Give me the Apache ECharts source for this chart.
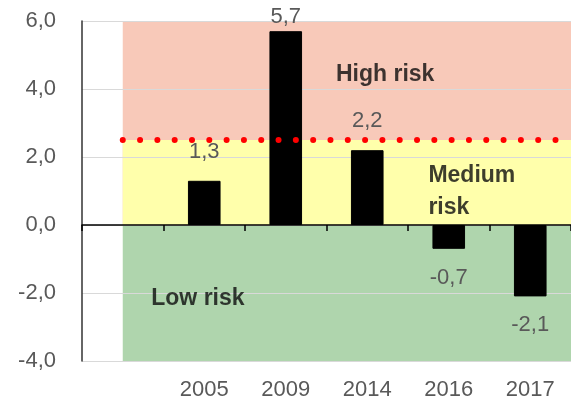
<!DOCTYPE html>
<html>
<head>
<meta charset="utf-8">
<script src="https://cdn.jsdelivr.net/npm/echarts@6/dist/echarts.min.js"></script>
<style>
  html, body { margin: 0; padding: 0; background: #fff; }
  #chart { width: 571px; height: 404px; }
</style>
</head>
<body>
<div id="chart"></div>
<script>
// Years on the category axis; the first slot is left empty
const categories = ['', '2005', '2009', '2014', '2016', '2017'];
// Indicator values per year
const values = [null, 1.3, 5.7, 2.2, -0.7, -2.1];
// Gap between each value label and its bar end, in px
const labelGaps = [0, 18, 3, 18, 18, 18];
// Y axis range and step
const yMin = -4, yMax = 6, yStep = 2;
// Risk zone limits
const highRiskFrom = 2.5;
// Zone band extent along the x direction, in category units
const bandStart = 0.5, bandEnd = 6;

const FONT = '"Liberation Sans", Arial, sans-serif';
const comma = v => String(v).replace('.', ',');

const band = (name, y, color) => ({
  name, type: 'line', xAxisIndex: 2, z: 1,
  data: [[bandStart, y], [bandEnd, y]],
  symbol: 'none', silent: true,
  lineStyle: { width: 0 },
  areaStyle: { color, opacity: 1 }
});

const zoneText = (text, x, y, align) => ({
  name: text, type: 'scatter', xAxisIndex: 2, z: 6,
  data: [[x, y]], symbolSize: 0, silent: true,
  label: {
    show: true, position: 'inside', formatter: text, align,
    fontFamily: FONT, fontSize: 23, fontWeight: 'bold',
    color: '#0d0d0d', lineHeight: 32
  }
});

const chart = echarts.init(document.getElementById('chart'));
chart.setOption({
  animation: false,
  grid: { left: 82, right: -8, top: 21, bottom: 43, containLabel: false },
  xAxis: [
    { // axis drawn on the zero line
      type: 'category', data: categories, position: 'bottom', z: 4,
      axisLine: { onZero: true, lineStyle: { color: '#000', width: 1.5 } },
      axisTick: { show: true, length: 6, lineStyle: { color: '#000', width: 1.5 } },
      axisLabel: { show: false }, splitLine: { show: false }
    },
    { // year labels along the bottom
      type: 'category', data: categories, position: 'bottom',
      axisLine: { show: false, onZero: false }, axisTick: { show: false },
      axisLabel: { color: '#595959', fontFamily: FONT, fontSize: 22, margin: 18 },
      splitLine: { show: false }
    },
    { type: 'value', min: 0, max: 6, show: false }
  ],
  yAxis: {
    type: 'value', min: yMin, max: yMax, interval: yStep, z: 4,
    axisLine: { show: true, lineStyle: { color: '#333', width: 1.5 } },
    axisTick: { show: false },
    splitLine: { lineStyle: { color: '#d9d9d9', width: 1 } },
    axisLabel: {
      color: '#595959', fontFamily: FONT, fontSize: 22, margin: 26,
      formatter: v => comma(v.toFixed(1))
    }
  },
  series: [
    band('High risk', yMax, '#f8c9b9'),
    band('Medium risk', highRiskFrom, '#ffffab'),
    band('Low risk', yMin, '#afd5ad'),
    {
      name: 'Indicator', type: 'bar', xAxisIndex: 0, z: 5,
      barWidth: '40%',
      data: values.map((v, i) => v === null ? '-' : {
        value: v,
        label: { position: v < 0 ? 'bottom' : 'top', distance: labelGaps[i] }
      }),
      itemStyle: { color: '#000', borderColor: '#000', borderWidth: 1 },
      label: {
        show: true, color: '#595959',
        fontFamily: FONT, fontSize: 22,
        formatter: p => comma(p.value)
      }
    },
    {
      name: 'High risk threshold', type: 'line', xAxisIndex: 2, z: 7,
      data: [[bandStart, highRiskFrom], [bandEnd, highRiskFrom]],
      symbol: 'none', silent: true,
      lineStyle: { color: '#ff0000', width: 6, type: [0.01, 17.3], cap: 'round' }
    },
    zoneText('High risk', 3.72, 4.41, 'center'),
    zoneText('Medium\nrisk', 4.25, 0.99, 'left'),
    zoneText('Low risk', 0.85, -2.18, 'left')
  ]
});
</script>
</body>
</html>
